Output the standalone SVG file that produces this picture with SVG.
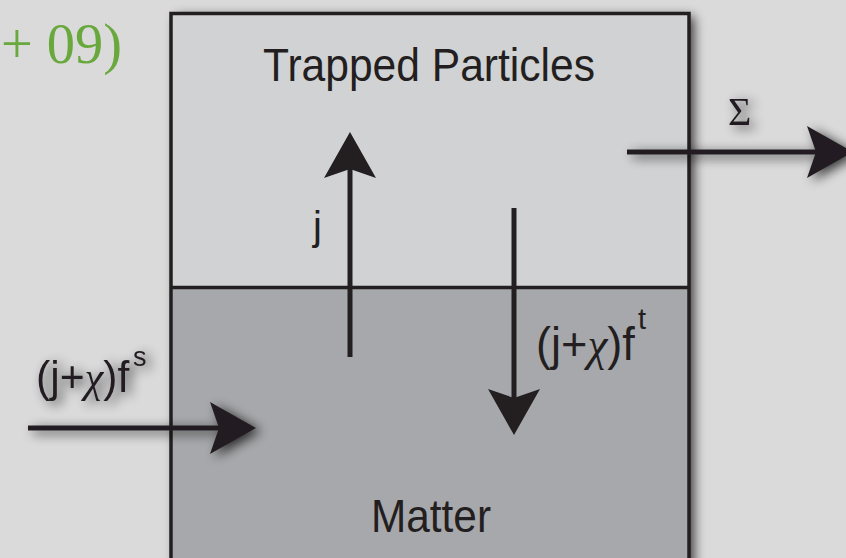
<svg xmlns="http://www.w3.org/2000/svg" width="846" height="558" viewBox="0 0 846 558">
<style>
.lbl{font-family:"Liberation Sans",Arial,sans-serif;fill:#231f20}
.title{font-size:46px;text-anchor:middle}
.greek{font-family:"Liberation Serif","Times New Roman",serif;font-style:italic}
.conn{stroke:#231f20;stroke-width:5;fill:none;marker-end:url(#ah)}
.border{fill:none;stroke:#231f20;stroke-width:3.5}
</style>
<defs>
<marker id="ah" markerUnits="userSpaceOnUse" markerWidth="50" markerHeight="56" viewBox="-10 -28 50 56" refX="0" refY="0" orient="auto">
<path d="M37,0 L-9,-26 L0,0 L-9,26 Z" fill="#231f20"/>
</marker>
<filter id="sh" x="-20%" y="-20%" width="140%" height="140%">
<feGaussianBlur in="SourceAlpha" stdDeviation="6"/>
<feOffset dx="5" dy="3" result="b"/>
<feComponentTransfer><feFuncA type="linear" slope="0.75"/></feComponentTransfer>
<feMerge><feMergeNode/><feMergeNode in="SourceGraphic"/></feMerge>
</filter>
</defs>
<rect width="846" height="558" fill="#dadada"/>
<text x="1" y="63" textLength="121" lengthAdjust="spacingAndGlyphs" style="font-family:'Liberation Serif','Times New Roman',serif;font-size:56px;fill:#68a83c">+ 09)</text>
<g id="box" filter="url(#sh)">
<rect x="171" y="13.5" width="518" height="560" fill="#d1d2d4"/>
</g>
<g id="trapped-particles">
<rect x="171" y="13.5" width="518" height="274" fill="#d1d2d4"/>
<text class="lbl title" x="429" y="81" textLength="332" lengthAdjust="spacingAndGlyphs">Trapped Particles</text>
</g>
<g id="matter">
<rect x="171" y="287.5" width="518" height="290" fill="#a7a8ab"/>
<text class="lbl title" x="431" y="532" textLength="120" lengthAdjust="spacingAndGlyphs">Matter</text>
</g>
<g id="borders">
<rect class="border" x="171" y="13.5" width="518" height="570"/>
<line x1="171" y1="287.5" x2="689" y2="287.5" stroke="#231f20" stroke-width="3.5"/>
</g>
<g id="connectors">
<line class="conn" x1="350" y1="357" x2="350" y2="169"/>
<line class="conn" x1="514" y1="208" x2="514" y2="398"/>
<g filter="url(#sh)">
<line class="conn" x1="28" y1="428" x2="219" y2="428"/>
<line class="conn" x1="627" y1="152" x2="816" y2="152"/>
</g>
</g>
<g id="labels">
<text class="lbl" x="313" y="240" style="font-size:40px">j</text>
<text class="lbl" transform="translate(536,360) scale(0.96,1)" style="font-size:47px">(j+<tspan class="greek">χ</tspan>)f</text>
<text class="lbl" x="638" y="329" style="font-size:29px">t</text>
<g filter="url(#sh)">
<text class="lbl" transform="translate(36,392) scale(0.97,1)" style="font-size:44px">(j+<tspan class="greek">χ</tspan>)f</text>
<text class="lbl" x="133" y="366" style="font-size:27px">s</text>
<text x="728" y="125" style="font-family:'Liberation Serif','Times New Roman',serif;font-size:40px;fill:#231f20">Σ</text>
</g>
</g>
</svg>
